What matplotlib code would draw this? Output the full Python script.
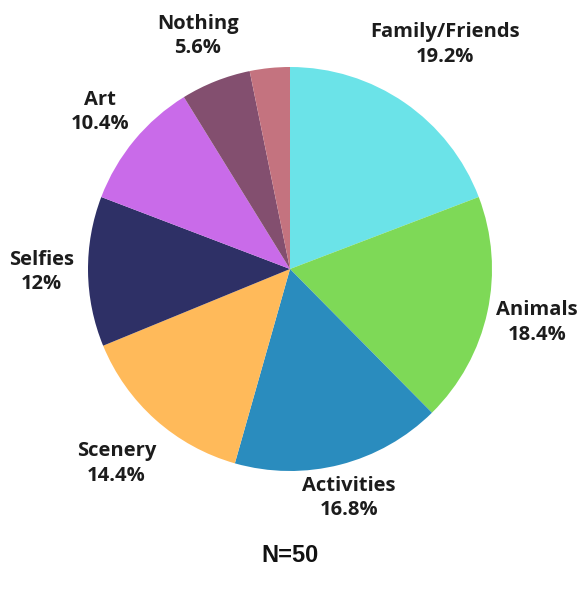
import numpy as np
import matplotlib
matplotlib.use("Agg")
import matplotlib.pyplot as plt

categories = ["Family/Friends", "Animals", "Activities", "Scenery", "Selfies", "Art", "Nothing", ""]
shares = [19.2, 18.4, 16.8, 14.4, 12.0, 10.4, 5.6, 3.2]
value_labels = ["19.2%", "18.4%", "16.8%", "14.4%", "12%", "10.4%", "5.6%", ""]
colors = ["#6BE3E8", "#7ED957", "#2A8CBE", "#FFBA5A", "#2E3066", "#C96BE9", "#834F6F", "#C4737F"]
label_radius = [1.35, 1.25, 1.17, 1.29, 1.23, 1.22, 1.24, 1.2]

W, H = 586, 594
fig = plt.figure(figsize=(W / 100, H / 100), dpi=100)
ax = fig.add_axes([0, 0, 1, 1])

cx, cy, r = 290, H - 269, 202
wedges, _ = ax.pie(shares, colors=colors, startangle=90, counterclock=False,
                   center=(cx, cy), radius=r, frame=True,
                   wedgeprops=dict(linewidth=0))
ax.set_xlim(0, W)
ax.set_ylim(0, H)
ax.set_aspect("equal")
ax.axis("off")

for w, name, val, lr in zip(wedges, categories, value_labels, label_radius):
    if not name:
        continue
    ang = np.deg2rad((w.theta1 + w.theta2) / 2)
    x = cx + lr * r * np.cos(ang)
    y = cy + lr * r * np.sin(ang)
    ax.text(x, y, f"{name}\n{val}", ha="center", va="center",
            fontsize=14.5, fontweight="bold", family="Open Sans",
            color="#1c1c1c", linespacing=1.3)

ax.text(290, H - 555, "N=50", ha="center", va="center", fontsize=17,
        fontweight="bold", family="Liberation Sans", color="#111111")

fig.savefig("out.png", dpi=100)
